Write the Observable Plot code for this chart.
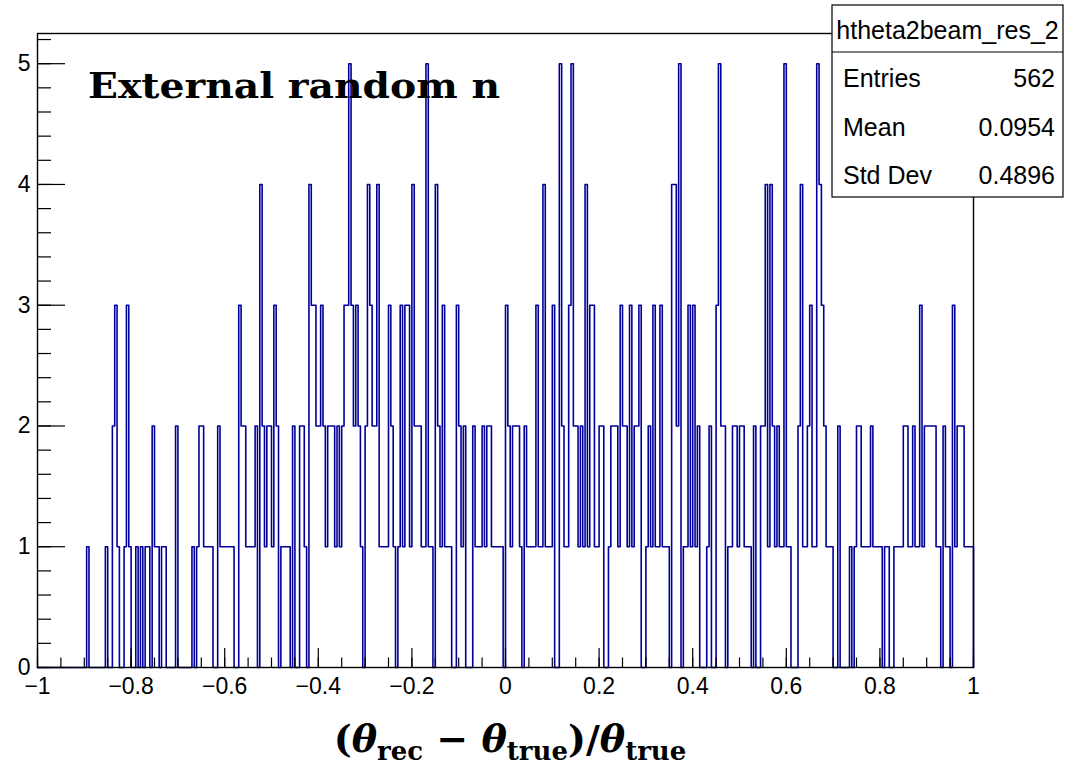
<!DOCTYPE html>
<html>
<head>
<meta charset="utf-8">
<script src="https://cdn.jsdelivr.net/npm/d3@7"></script>
<script src="https://cdn.jsdelivr.net/npm/@observablehq/plot@0.6"></script>
<style>
  html, body { margin: 0; padding: 0; background: #fff; }
</style>
</head>
<body>
<div id="chart"></div>
<script>
// Histogram contents: 400 equal-width bins over [-1, 1]
const binCounts = [
  0,0,0,0,0,0,0,0,0,0, 0,0,0,0,0,0,0,0,0,0,
  0,1,0,0,0,0,0,0,0,1, 0,0,2,3,1,0,0,1,3,1,
  0,0,1,0,1,0,1,1,0,2, 1,1,0,1,1,0,0,0,0,2,
  0,0,0,0,0,0,1,0,1,2, 2,1,1,1,1,0,0,2,1,1,
  1,1,1,1,0,0,3,2,2,1, 1,1,1,2,0,4,2,1,2,2,
  1,3,2,0,1,1,1,1,0,2, 0,0,2,2,1,0,4,3,3,2,
  2,3,2,1,2,2,2,1,2,1, 2,3,3,5,3,2,3,2,1,0,
  2,4,3,2,2,4,1,1,1,1, 3,2,1,0,1,3,1,3,3,1,
  4,2,2,2,1,1,5,1,1,0, 4,2,1,3,1,1,1,0,0,3,
  2,1,2,0,0,0,2,1,1,1, 2,1,2,2,1,1,1,1,1,0,
  3,2,1,2,2,2,1,0,2,1, 1,1,1,3,1,1,4,1,1,1,
  3,0,0,5,2,1,1,3,5,2, 2,1,2,1,4,1,3,3,1,1,
  2,2,0,0,1,2,2,2,1,3, 2,2,1,3,1,2,2,3,0,0,
  1,2,1,3,1,1,3,1,1,1, 0,4,4,2,5,0,1,1,3,1,
  3,1,2,0,0,0,1,2,0,0, 3,5,2,2,0,1,1,2,2,1,
  2,2,1,1,1,0,2,0,0,2, 2,4,1,4,2,1,2,1,1,5,
  1,1,0,0,0,2,4,1,1,2, 3,1,1,5,4,3,2,1,1,1,
  0,0,2,0,0,0,0,1,0,1, 2,2,1,1,1,1,2,1,1,1,
  1,0,1,1,0,0,1,1,1,1, 2,2,1,1,2,1,1,3,1,2,
  2,2,2,2,1,1,0,2,1,1, 0,3,1,2,2,2,1,1,1,1
];
const xRange = [-1, 1];
const yRange = [0, 5.25];

const xMajorTicks = [-1, -0.8, -0.6, -0.4, -0.2, 0, 0.2, 0.4, 0.6, 0.8, 1];
const xTickLabels = ["\u22121", "\u22120.8", "\u22120.6", "\u22120.4", "\u22120.2", "0", "0.2", "0.4", "0.6", "0.8", "1"];
const yMajorTicks = [0, 1, 2, 3, 4, 5];
const yTickLabels = ["0", "1", "2", "3", "4", "5"];

const histName = "htheta2beam_res_2";
const statLabels = ["Entries", "Mean", "Std Dev"];
const statValues = ["562", "0.0954", "0.4896"];
const titleText = "External random n";

// Minor tick positions
const xMinorTicks = d3.range(0, 41).map(i => -1 + i * 0.05);
const yMinorTicks = d3.range(0, 27).map(i => +(i * 0.2).toFixed(1));

// Outline vertices for the step drawing of the histogram
const binWidth = (xRange[1] - xRange[0]) / binCounts.length;
const outline = binCounts.map((c, i) => ({x: xRange[0] + i * binWidth, y: c}));
outline.push({x: xRange[1], y: binCounts[binCounts.length - 1]});
outline.push({x: xRange[1], y: 0});

const W = 1067, H = 766;
const chart = Plot.plot({
  width: W,
  height: H,
  marginLeft: 37,
  marginRight: 94,
  marginTop: 33,
  marginBottom: 99,
  style: {fontFamily: "'Liberation Sans', Arial, Helvetica, sans-serif", fontSize: "23px", background: "#fff", color: "#000"},
  x: {domain: xRange},
  y: {domain: yRange},
  marks: [
    Plot.line(outline, {x: "x", y: "y", curve: "step-after", stroke: "#000099", strokeWidth: 1.6}),
    Plot.frame({stroke: "#000", strokeWidth: 1.4}),
    // bottom axis: labels, major and minor ticks (drawn inward)
    Plot.axisX(xMajorTicks, {anchor: "bottom", tickSize: 0, tickPadding: 10, fontSize: 23,
      tickFormat: d => xTickLabels[xMajorTicks.indexOf(d)], label: null}),
    Plot.axisX(xMajorTicks, {anchor: "bottom", tickSize: -19, tickFormat: () => "", label: null, strokeWidth: 1.2}),
    Plot.axisX(xMinorTicks, {anchor: "bottom", tickSize: -9.5, tickFormat: () => "", label: null, strokeWidth: 1.2}),
    // left axis
    Plot.axisY(yMajorTicks, {anchor: "left", tickSize: 0, tickPadding: 7, fontSize: 23,
      tickFormat: d => yTickLabels[yMajorTicks.indexOf(d)], label: null}),
    Plot.axisY(yMajorTicks, {anchor: "left", tickSize: -28, tickFormat: () => "", label: null, strokeWidth: 1.2}),
    Plot.axisY(yMinorTicks, {anchor: "left", tickSize: -14, tickFormat: () => "", label: null, strokeWidth: 1.2})
  ]
});
document.getElementById("chart").appendChild(chart);

const svg = d3.select(chart);

// Title inside the frame
svg.append("text")
  .attr("x", 88).attr("y", 98)
  .attr("text-anchor", "start")
  .attr("textLength", 412).attr("lengthAdjust", "spacingAndGlyphs")
  .style("font-family", "'DejaVu Serif', serif")
  .style("font-weight", "bold")
  .style("font-size", "36px")
  .attr("fill", "#000")
  .text(titleText);

// Statistics box
const box = {x: 832, y: 5, w: 231, h: 192, header: 47};
const g = svg.append("g").style("font-size", "25px");
g.append("rect").attr("x", box.x).attr("y", box.y).attr("width", box.w).attr("height", box.h)
  .attr("fill", "#fff").attr("stroke", "#000").attr("stroke-width", 1.2);
g.append("line").attr("x1", box.x).attr("x2", box.x + box.w)
  .attr("y1", box.y + box.header).attr("y2", box.y + box.header)
  .attr("stroke", "#000").attr("stroke-width", 1.2);
g.append("text").attr("x", box.x + box.w / 2).attr("y", box.y + 34)
  .attr("text-anchor", "middle").text(histName);
statLabels.forEach((lab, i) => {
  const yy = box.y + box.header + 35 + i * 48.5;
  g.append("text").attr("x", box.x + 11).attr("y", yy).attr("text-anchor", "start").text(lab);
  g.append("text").attr("x", box.x + box.w - 8).attr("y", yy).attr("text-anchor", "end").text(statValues[i]);
});

// Axis title: (theta_rec - theta_true)/theta_true
const xt = svg.append("text")
  .attr("x", 510).attr("y", 752)
  .attr("text-anchor", "middle")
  .style("font-family", "'DejaVu Serif', serif")
  .style("font-weight", "bold")
  .style("font-size", "38px")
  .attr("fill", "#000");
xt.append("tspan").text("(");
xt.append("tspan").style("font-style", "italic").text("\u03b8");
xt.append("tspan").attr("dy", 8).style("font-size", "26px").text("rec");
xt.append("tspan").attr("dy", -8).text(" \u2212 ");
xt.append("tspan").style("font-style", "italic").text("\u03b8");
xt.append("tspan").attr("dy", 8).style("font-size", "26px").text("true");
xt.append("tspan").attr("dy", -8).text(")/");
xt.append("tspan").style("font-style", "italic").text("\u03b8");
xt.append("tspan").attr("dy", 8).style("font-size", "26px").text("true");
</script>
</body>
</html>
